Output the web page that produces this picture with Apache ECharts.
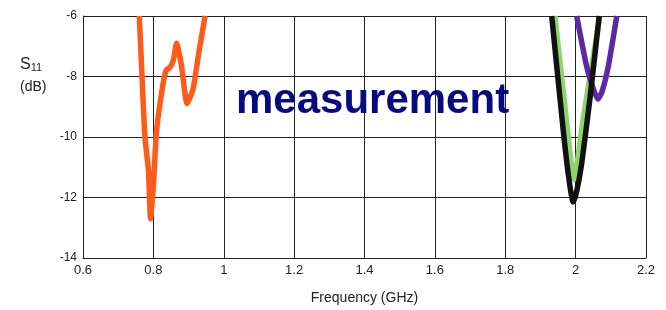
<!DOCTYPE html>
<html>
<head>
<meta charset="utf-8">
<script src="https://cdn.jsdelivr.net/npm/echarts@6/dist/echarts.min.js"></script>
<style>
  html, body { margin: 0; padding: 0; background: #fff; }
  #chart { width: 666px; height: 310px; }
</style>
</head>
<body>
<div id="chart"></div>
<script>
// x ticks (GHz) and y ticks (dB)
var xTicks = [0.6, 0.8, 1, 1.2, 1.4, 1.6, 1.8, 2, 2.2];
var yTicks = [-14, -12, -10, -8, -6];

// [GHz, dB]
var orangeData = [
    [0.760, -6.0], [0.767, -7.8], [0.776, -10.0], [0.786, -11.1], [0.792, -12.7],
    [0.800, -11.6], [0.809, -9.8], [0.824, -8.5], [0.836, -7.8], [0.847, -7.7],
    [0.857, -7.45], [0.866, -6.9], [0.880, -7.65], [0.896, -8.9], [0.913, -8.4],
    [0.928, -7.3], [0.947, -6.0]
];
var greenData = [
    [1.941, -6.0], [1.968, -8.8], [1.996, -11.4], [2.020, -9.5], [2.046, -7.65], [2.069, -6.0]
];
var blackData = [
    [1.932, -6.0], [1.965, -9.8], [1.980, -11.3], [1.993, -12.15], [2.003, -11.8],
    [2.017, -10.9], [2.041, -8.7], [2.067, -6.0]
];
var purpleData = [
    [2.003, -6.0], [2.031, -7.65], [2.050, -8.4], [2.063, -8.75], [2.075, -8.5],
    [2.093, -7.65], [2.117, -6.0]
];

var chart = echarts.init(document.getElementById('chart'));

var lineSeries = function (data, color, z) {
    return {
        type: 'line',
        data: data,
        showSymbol: false,
        smooth: 0.2,
        z: z,
        lineStyle: { color: color, width: 5.5 }
    };
};

chart.setOption({
    backgroundColor: '#fff',
    animation: false,
    grid: { left: 83, right: 20, top: 16, bottom: 49 },
    xAxis: {
        type: 'value',
        min: 0.6, max: 2.2, interval: 0.2,
        name: 'Frequency (GHz)',
        nameLocation: 'middle',
        nameGap: 33,
        nameTextStyle: { fontFamily: 'Liberation Sans', fontSize: 14, color: '#222' },
        axisLine: { show: true, lineStyle: { color: '#222', width: 1 } },
        axisTick: { show: false },
        axisLabel: {
            fontFamily: 'Liberation Sans', fontSize: 13, color: '#222', margin: 6,
            formatter: function (v) { return xTicks.indexOf(+v.toFixed(1)) >= 0 ? String(+v.toFixed(1)) : ''; }
        },
        splitLine: { show: true, lineStyle: { color: '#222', width: 1 } }
    },
    yAxis: {
        type: 'value',
        min: -14, max: -6, interval: 2,
        axisLine: { show: true, lineStyle: { color: '#222', width: 1 } },
        axisTick: { show: false },
        axisLabel: { fontFamily: 'Liberation Sans', fontSize: 12, color: '#222', margin: 6 },
        splitLine: { show: true, lineStyle: { color: '#222', width: 1 } }
    },
    graphic: [
        {
            type: 'text', left: 20, top: 57,
            style: {
                text: 'S{sub|11}',
                fontFamily: 'Liberation Sans', fontSize: 16, fill: '#222',
                rich: { sub: { fontSize: 11, fill: '#222', padding: [6, 0, 0, 0] } }
            }
        },
        {
            type: 'text', left: 20, top: 80,
            style: { text: '(dB)', fontFamily: 'Liberation Sans', fontSize: 14, fill: '#222' }
        },
        {
            type: 'text', left: 236, top: 80, z: 10,
            style: { text: 'measurement', fontFamily: 'Liberation Sans', fontWeight: 'bold', fontSize: 42, fill: '#0a0a80' }
        }
    ],
    series: [
        lineSeries(orangeData, '#ff5a1a', 3),
        lineSeries(greenData, '#8fd36a', 3),
        lineSeries(purpleData, '#5b2aa3', 4),
        lineSeries(blackData, '#111111', 5)
    ]
});
</script>
</body>
</html>
